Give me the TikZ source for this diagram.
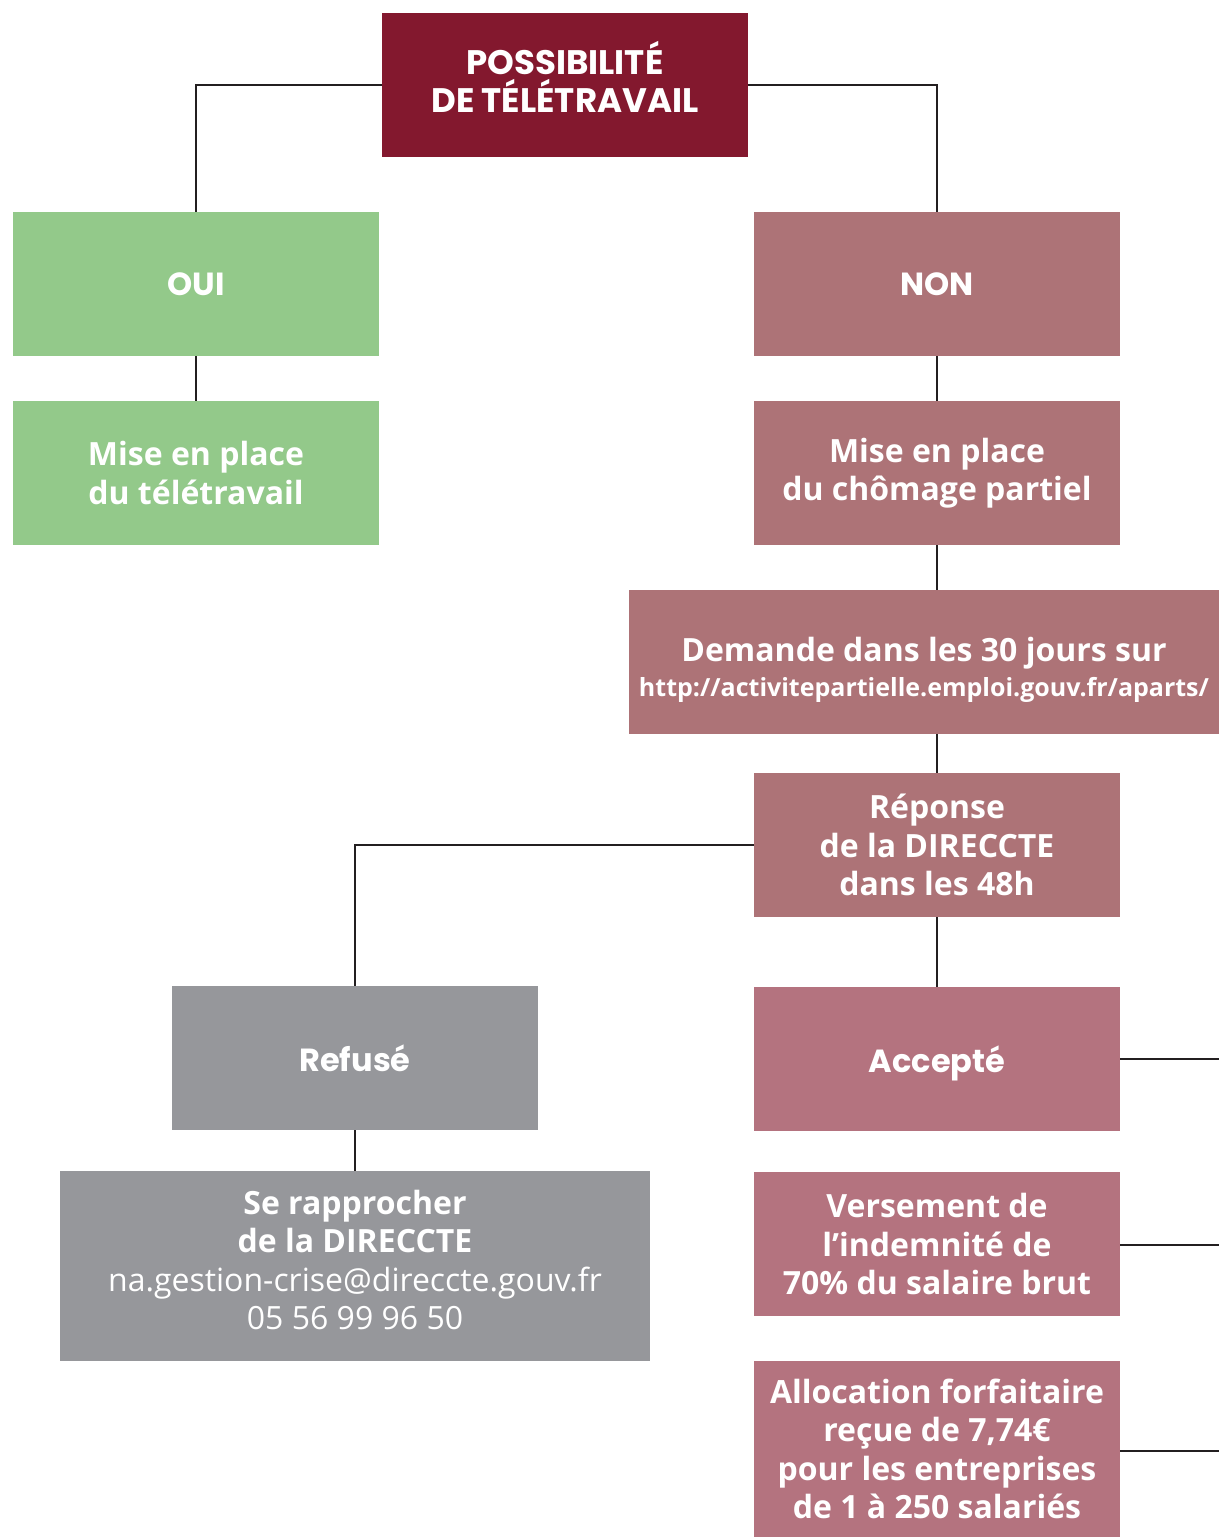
\documentclass[tikz,border=0pt]{standalone}
\usepackage{fontspec}
\setmainfont{Open Sans}
\newfontfamily\geofont{Poppins}
\usepackage{xcolor}
\usepackage{tikz}

\definecolor{titlered}{RGB}{131,24,46}
\definecolor{ouigreen}{RGB}{147,201,138}
\definecolor{nonmauve}{RGB}{173,115,119}
\definecolor{acceptrose}{RGB}{180,115,127}
\definecolor{refusgrey}{RGB}{150,151,155}
\definecolor{linkgrey}{RGB}{35,31,32}

\tikzset{
    stepbox/.style={rectangle, inner sep=0pt, text=white, align=center,
        minimum width=183pt, minimum height=72pt,
        font=\fontsize{16}{19.2}\selectfont\bfseries},
    geobox/.style={stepbox, font=\geofont\fontsize{16}{19}\selectfont\bfseries},
    link/.style={draw=linkgrey, line width=1.2pt}
}

\begin{document}
\begin{tikzpicture}[x=0.5pt, y=-0.5pt]
                \useasboundingbox (0, 0) rectangle (1219, 1537);

                \node[geobox, fill=titlered, font=\geofont\fontsize{17}{19}\selectfont\bfseries, text depth=8pt]
                    (tele) at (565, 85) {POSSIBILITÉ\\DE TÉLÉTRAVAIL};
                \node[geobox, fill=ouigreen] (oui) at (196, 284) {OUI};
                \node[geobox, fill=nonmauve] (non) at (937, 284) {NON};
                \node[stepbox, fill=ouigreen] (miseteletravail) at (196, 473) {Mise en place\\du télétravail};
                \node[stepbox, fill=nonmauve] (misechomage) at (937, 473) {Mise en place\\du chômage partiel};
                \node[stepbox, fill=nonmauve, minimum width=295pt] (demande) at (924, 662)
                    {\rule{0pt}{20pt}Demande dans les 30 jours sur\\[-2pt]{\fontsize{12.5}{15}\selectfont
                    http://activitepartielle.emploi.gouv.fr/aparts/}};
                \node[stepbox, fill=nonmauve] (reponse) at (937, 845) {Réponse\\de la DIRECCTE\\dans les 48h};
                \node[geobox, fill=refusgrey] (refuse) at (355, 1058) {Refusé};
                \node[geobox, fill=acceptrose, text depth=0pt] (accepte) at (937, 1059) {Accepté};
                \node[stepbox, fill=refusgrey, minimum width=295pt, minimum height=95pt, text depth=6pt] (rapprocher) at (355, 1266)
                    {Se rapprocher\\de la DIRECCTE\\{\mdseries na.gestion-crise@direccte.gouv.fr}\\{\mdseries 05 56 99 96 50}};
                \node[stepbox, fill=acceptrose] (versement) at (937, 1244) {Versement de\\l’indemnité de\\70\% du salaire brut};
                \node[stepbox, fill=acceptrose, minimum height=88pt] (allocation) at (937, 1449)
                    {Allocation forfaitaire\\reçue de 7,74€\\pour les entreprises\\de 1 à 250 salariés};

                \coordinate (acceptefin) at (1219, 1059);
                \coordinate (versementfin) at (1219, 1245);
                \coordinate (allocationfin) at (1219, 1451);

                \draw[link] (tele.west) -| (oui.north);
                \draw[link] (tele.east) -| (non.north);
                \draw[link] (oui.south) -- (miseteletravail.north);
                \draw[link] (non.south) -- (misechomage.north);
                \draw[link] (misechomage.south) -- (misechomage.south |- demande.north);
                \draw[link] (reponse.north |- demande.south) -- (reponse.north);
                \draw[link] (reponse.west) -| (refuse.north);
                \draw[link] (reponse.south) -- (accepte.north);
                \draw[link] (refuse.south) -- (rapprocher.north);
                \draw[link] (accepte.east) -- (acceptefin);
                \draw[link] (versement.east |- versementfin) -- (versementfin);
                \draw[link] (allocation.east |- allocationfin) -- (allocationfin);
            \end{tikzpicture}
\end{document}
